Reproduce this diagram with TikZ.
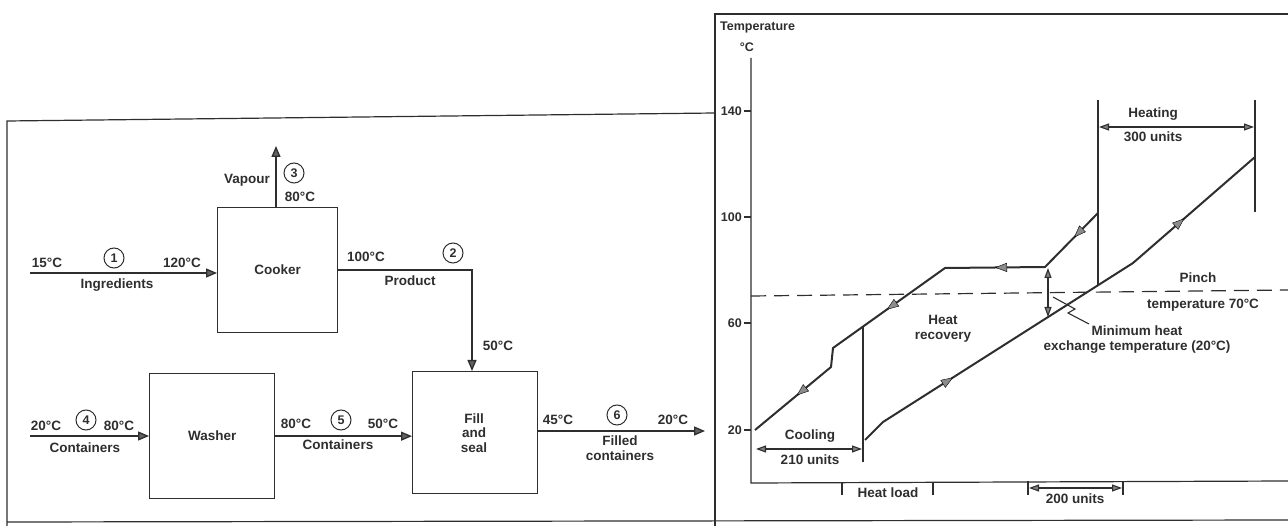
\documentclass[tikz,border=0pt]{standalone}
\usepackage{fontspec}
\setmainfont{Liberation Sans}
\usetikzlibrary{arrows.meta,decorations.markings,calc}
\definecolor{ink}{gray}{0.18}
\begin{document}
\begin{tikzpicture}[x=1pt,y=-1pt,
  lbl/.style={font=\fontsize{13.5}{15}\selectfont\bfseries, inner sep=0pt, text=ink},
  sml/.style={font=\fontsize{12.5}{14}\selectfont\bfseries, inner sep=0pt, text=ink},
  procbox/.style={draw=ink, line width=1.3pt, anchor=north west, inner sep=0pt},
  flow/.style={draw=ink, line width=1.3pt, -{Triangle[length=11pt,width=9pt,fill=ink!75]}},
  num/.style={circle, draw=ink, line width=1pt, inner sep=0pt, minimum size=20pt, text=ink, font=\fontsize{12.5}{14}\selectfont\bfseries},
  frame/.style={draw=ink, line width=1.2pt},
  curve/.style={draw=ink, line width=2pt, line join=round},
  thin/.style={draw=ink, line width=1.1pt},
  dimarr/.style={draw=ink, line width=1.1pt, {Triangle[length=10pt,width=7pt,fill=ink!60]}-{Triangle[length=10pt,width=7pt,fill=ink!60]}},
  midarrow/.style={decoration={markings, mark=at position #1 with {\arrow{Triangle[length=12pt,width=9pt,fill=ink!55]}}}, postaction=decorate}
]
\useasboundingbox (0,0) rectangle (1288,526);

% ---------- frames ----------
\draw[frame] (7,526) -- (7,121) -- (715,113);
\draw[frame] (715,526) -- (715,14) -- (1288,14);
\draw[frame] (7,522) -- (1288,520);

% ---------- process boxes ----------
\node[procbox, minimum width=120pt, minimum height=125pt] (cooker) at (217,207) {};
\node[lbl] (cookerT) at (cooker.center) {Cooker};
\node[procbox, minimum width=125pt, minimum height=125pt] (washer) at (149,373) {};
\node[lbl] (washerT) at (washer.center) {Washer};
\node[procbox, minimum width=125pt, minimum height=122pt] (fill) at (412,371) {};
\node[lbl, align=center, font=\fontsize{13.5}{14.5}\selectfont\bfseries] (fillT) at (474,433) {Fill\\and\\seal};

% ---------- flows ----------
\coordinate (ing) at (30,273);
\draw[flow] (ing) -- (ing -| cooker.west);
\node[lbl] (t15) at (47,263) {15°C};
\node[num] (n1) at (114,258) {1};
\node[lbl] (t120) at (182,263) {120°C};
\node[lbl] (ingT) at (117,285) {Ingredients};

\coordinate (vap) at (276,146);
\draw[flow] (vap |- cooker.north) -- (vap);
\node[lbl, anchor=east] (vapT) at (270,180) {Vapour};
\node[num] (n3) at (294,173) {3};
\node[lbl] (t80a) at (300,197) {80°C};

\coordinate (pc) at (472,270);
\draw[flow] (pc -| cooker.east) -- (pc) -- (pc |- fill.north);
\node[lbl] (t100) at (366,257) {100°C};
\node[num] (n2) at (453,253) {2};
\node[lbl] (prodT) at (410,281) {Product};
\node[lbl] (t50a) at (498,346) {50°C};

\coordinate (cin) at (30,436);
\draw[flow] (cin) -- (cin -| washer.west);
\node[lbl] (t20a) at (46,426) {20°C};
\node[num] (n4) at (86,420) {4};
\node[lbl] (t80b) at (119,426) {80°C};
\node[lbl] (contA) at (85,448) {Containers};

\draw[flow] (washer.east) -- (washer.east -| fill.west);
\node[lbl] (t80c) at (296,424) {80°C};
\node[num] (n5) at (341,420) {5};
\node[lbl] (t50b) at (383,424) {50°C};
\node[lbl] (contB) at (338,445) {Containers};

\coordinate (outend) at (705,431);
\draw[flow] (outend -| fill.east) -- (outend);
\node[lbl] (t45) at (558,420) {45°C};
\node[num] (n6) at (617,415) {6};
\node[lbl] (t20b) at (673,420) {20°C};
\node[lbl, align=center] (filledT) at (620,448) {Filled\\containers};

% ---------- chart axes ----------
\coordinate (origin) at (751,483);
\draw[frame] (751,58) -- (origin) -- (1288,481);
\node[sml, anchor=west] (tempT) at (720,28) {Temperature};
\node[sml] (degC) at (747,47) {°C};
\foreach \v/\yy in {140/111,100/217,60/323,20/430}{
  \draw[thin] (744,\yy) -- (751,\yy);
  \node[sml, anchor=east] (tick\v) at (742,\yy) {\v};
}

% pinch line
\draw[draw=ink, line width=1.2pt, dash pattern=on 15pt off 8pt] (751,296) -- (1288,290);

% hot composite
\coordinate (h1) at (1098,213);
\coordinate (h2) at (1045,267);
\coordinate (h3) at (945,268);
\coordinate (h4) at (833,348);
\coordinate (h5) at (831,367);
\coordinate (h6) at (755,430);
\draw[curve] (h1) -- (h2) -- (h3) -- (h4) -- (h5) -- (h6);
\path[midarrow=0.45] (h1) -- (h2);
\path[midarrow=0.5] (h2) -- (h3);
\path[midarrow=0.52] (h3) -- (h4);
\path[midarrow=0.45] (h5) -- (h6);

% cold composite
\coordinate (c1) at (865,440);
\coordinate (c2) at (883,422);
\coordinate (c3) at (1133,263);
\coordinate (c4) at (1255,157);
\draw[curve] (c1) -- (c2) -- (c3) -- (c4);
\path[midarrow=0.28] (c2) -- (c3);
\path[midarrow=0.42] (c3) -- (c4);

% heat recovery boundary & cooling
\draw[thin] (863,327) -- (863,462);
\draw[dimarr] (756,449) -- (862,449);
\node[lbl] (coolT) at (810,436) {Cooling};
\node[lbl] (c210) at (810,460) {210 units};
\node[lbl, align=center] (hrT) at (943,329) {Heat\\recovery};

% heating
\draw[thin] (1098,100) -- (1098,285);
\draw[thin] (1255,100) -- (1255,212);
\draw[dimarr] (1099,127) -- (1254,127);
\node[lbl] (heatT) at (1153,114) {Heating};
\node[lbl] (h300) at (1153,137) {300 units};

% pinch labels
\node[lbl] (pinchT) at (1198,278) {Pinch};
\node[lbl] (pinchT2) at (1203,305) {temperature 70°C};

% minimum heat exchange
\draw[dimarr] (1048,268) -- (1048,317);
\draw[thin] (1053,297) -- (1075,309) -- (1068,313) -- (1089,324);
\node[lbl, align=center] (minT) at (1137,340) {Minimum heat\\exchange temperature (20°C)};

% heat load & 200 units
\draw[thin] (842,483) -- (842,495);
\draw[thin] (933,482) -- (933,495);
\node[lbl] (hlT) at (888,493) {Heat load};
\draw[thin] (1028,481) -- (1028,495);
\draw[thin] (1123,481) -- (1123,495);
\draw[dimarr] (1029,488) -- (1122,488);
\node[lbl] (u200) at (1075,499) {200 units};
\end{tikzpicture}
\end{document}
